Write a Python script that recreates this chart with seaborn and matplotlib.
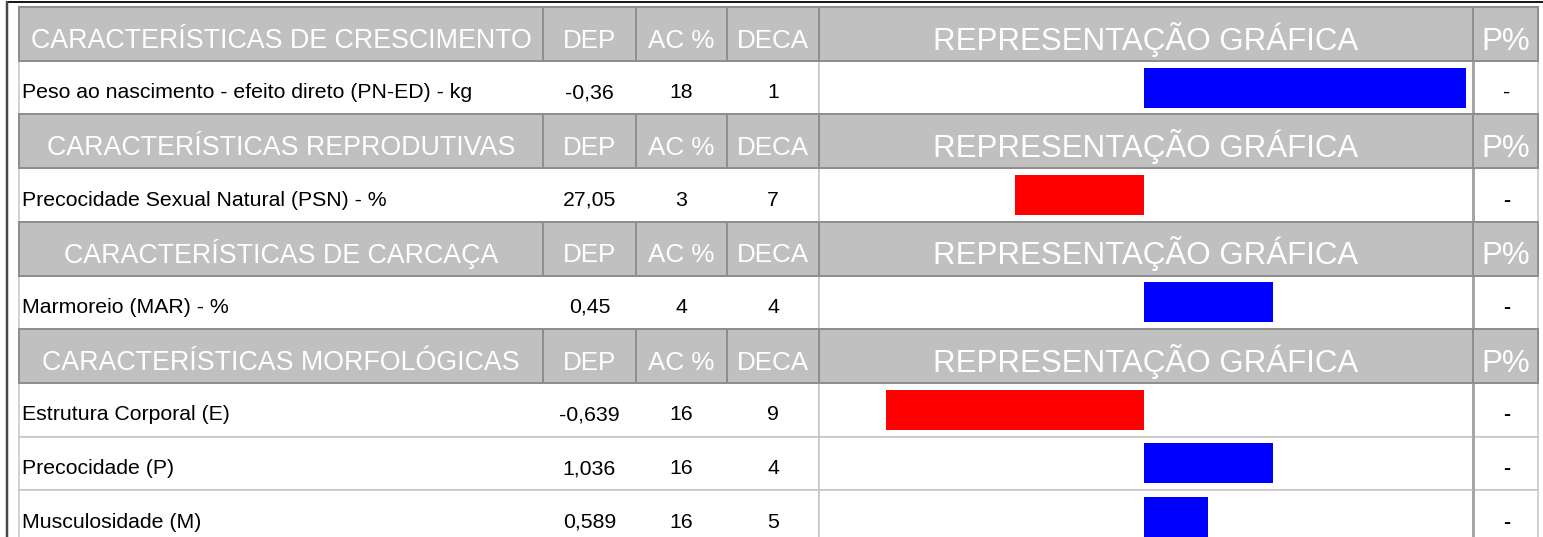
import matplotlib
matplotlib.use("Agg")
import matplotlib.pyplot as plt
import seaborn as sns
import pandas as pd
from matplotlib.patches import Rectangle

# ---------------- data ----------------
sections = ["CARACTERÍSTICAS DE CRESCIMENTO", "CARACTERÍSTICAS REPRODUTIVAS",
            "CARACTERÍSTICAS DE CARCAÇA", "CARACTERÍSTICAS MORFOLÓGICAS"]
col_headers = ["DEP", "AC %", "DECA", "REPRESENTAÇÃO GRÁFICA", "P%"]
traits = ["Peso ao nascimento - efeito direto (PN-ED) - kg",
          "Precocidade Sexual Natural (PSN) - %",
          "Marmoreio (MAR) - %",
          "Estrutura Corporal (E)",
          "Precocidade (P)",
          "Musculosidade (M)"]
trait_section = [0, 1, 2, 3, 3, 3]
dep = ["-0,36", "27,05", "0,45", "-0,639", "1,036", "0,589"]
ac = ["18", "3", "4", "16", "16", "16"]
deca = ["1", "7", "4", "9", "4", "5"]
p_pct = ["-", "-", "-", "-", "-", "-"]
bar_score = [100, -40, 40, -80, 40, 20]

# ---------------- layout ----------------
W, H = 1543, 537
TOP = 7.0
RH = 53.7
COLX = [19, 543, 636, 727, 819, 1473, 1538]
FONT = "Liberation Sans"
PX = 0.72  # points per pixel at 100 dpi

# build row sequence
rows = []  # (kind, index)
for s in range(len(sections)):
    rows.append(("h", s))
    for t, ts in enumerate(trait_section):
        if ts == s:
            rows.append(("t", t))

fig = plt.figure(figsize=(W / 100, H / 100), dpi=100)
fig.patch.set_facecolor("white")
ax = fig.add_axes([0, 0, 1, 1])
ax.set_xlim(0, W)
ax.set_ylim(H, 0)
ax.axis("off")

HDR_FILL = "#C0C0C0"
HDR_EDGE = "#8E8E8E"
DAT_EDGE = "#C4C4C4"


def cell(x0, x1, y0, y1, fill, edge, lw, z=1):
    ax.add_patch(Rectangle((x0, y0), x1 - x0, y1 - y0, facecolor=fill,
                           edgecolor=edge, linewidth=lw * PX, zorder=z))


DFS = 15.3
trait_rows = []
for r, (kind, idx) in enumerate(rows):
    y0 = TOP + r * RH
    y1 = y0 + RH
    yc = (y0 + y1) / 2
    if kind == "t":
        trait_rows.append(r)
        # data cells
        cell(COLX[0], COLX[4], y0, y1, "white", DAT_EDGE, 1.5, z=1)
        cell(COLX[4], COLX[5], y0, y1, "white", DAT_EDGE, 1.5, z=1)
        cell(COLX[5], COLX[6], y0, y1, "white", DAT_EDGE, 1.5, z=1)
        ax.plot([COLX[5], COLX[5]], [y0, y1], color="#A6A6A6", lw=3 * PX, zorder=2,
                solid_capstyle="butt")
        base = yc + 3 + 0.358 * DFS / PX
        ax.text(COLX[0] + 3, base, traits[idx], fontsize=DFS, family=FONT,
                color="black", ha="left", va="baseline", zorder=5)
        for c, val in zip(range(1, 4), (dep[idx], ac[idx], deca[idx])):
            ax.text((COLX[c] + COLX[c + 1]) / 2, base, val, fontsize=DFS, family=FONT,
                    color="black", ha="center", va="baseline", zorder=5)
        ax.text((COLX[5] + COLX[6]) / 2 + 1, base, p_pct[idx], fontsize=DFS, family=FONT,
                color="black", ha="center", va="baseline", zorder=5,
                fontweight="normal" if idx == 0 else "bold")
for r, (kind, idx) in enumerate(rows):
    y0 = TOP + r * RH
    y1 = y0 + RH
    yc = (y0 + y1) / 2
    if kind == "h":
        for c in range(6):
            cell(COLX[c], COLX[c + 1], y0, y1, HDR_FILL, HDR_EDGE, 2, z=3)
        labels = [sections[idx]] + col_headers
        for c, lab in enumerate(labels):
            fs = 22.5 if c >= 4 else (19.3 if c == 0 else 18.7)
            base = yc + 4.5 + 0.358 * fs / PX
            ax.text((COLX[c] + COLX[c + 1]) / 2, base, lab, fontsize=fs, family=FONT,
                    color="white", ha="center", va="baseline", zorder=5)

# outer frame
ax.plot([6.5, W], [1.5, 1.5], color="#1a1a1a", lw=2 * PX, zorder=6, solid_capstyle="butt")
ax.plot([6.5, 6.5], [1, H], color="#4a4a4a", lw=2.5 * PX, zorder=6, solid_capstyle="butt")

# ---------------- bars (seaborn) ----------------
df = pd.DataFrame({
    "score": bar_score,
    "ypos": [r + 0.5 for r in trait_rows],
    "sign": ["pos" if v > 0 else "neg" for v in bar_score],
})
bl = COLX[4] / W
bw = (COLX[5] - COLX[4]) / W
bb = (H - (TOP + 10 * RH)) / H
bh = (10 * RH) / H
bax = fig.add_axes([bl, bb, bw, bh])
sns.barplot(data=df, x="score", y="ypos", hue="sign",
            palette={"pos": "#0000FF", "neg": "#FF0000"},
            orient="y", native_scale=True, width=0.745, dodge=False,
            legend=False, errorbar=None, saturation=1, linewidth=0, ax=bax)
bax.set_xlim(-100.8, 102.2)
bax.set_ylim(10, 0)
bax.axis("off")
bax.patch.set_alpha(0)

fig.savefig("out.png", dpi=100, facecolor="white")
